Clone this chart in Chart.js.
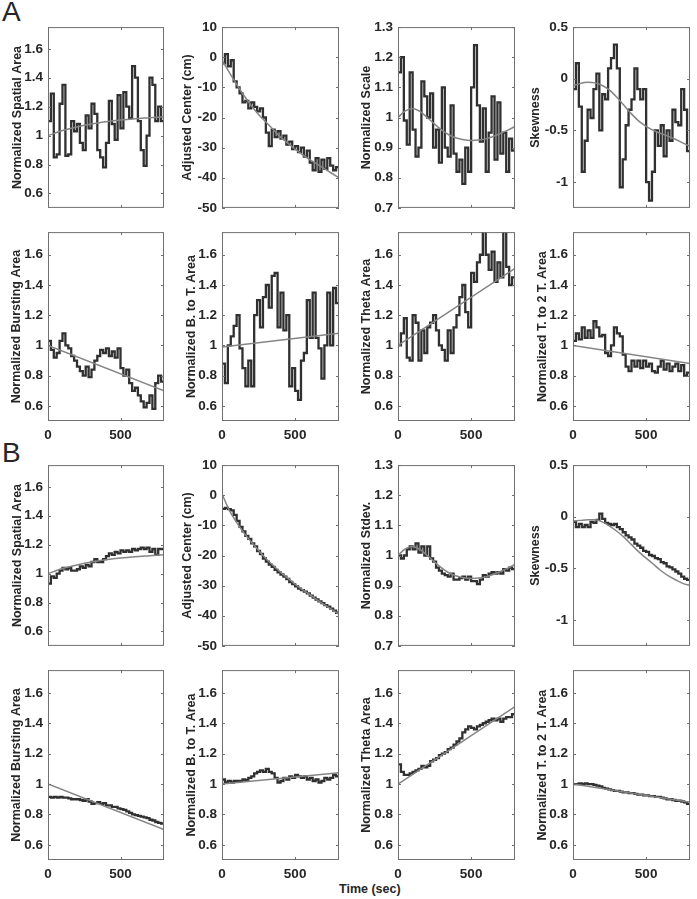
<!DOCTYPE html>
<html>
<head>
<meta charset="utf-8">
<script src="https://cdn.jsdelivr.net/npm/chart.js@4.4.1/dist/chart.umd.min.js"></script>
<style>
body { margin: 0; background: #fff; width: 697px; height: 899px; position: relative; overflow: hidden;
       font-family: "Liberation Sans", Arial, Helvetica, sans-serif; }
canvas { position: absolute; }
.lbl { position: absolute; color: #262626; line-height: 1; white-space: nowrap; }
</style>
</head>
<body>
<div class="lbl" style="left:2px;top:-2px;font-size:28px;">A</div>
<div class="lbl" style="left:2px;top:439px;font-size:28px;">B</div>
<div class="lbl" style="left:339px;top:883px;font-size:12.5px;font-weight:bold;">Time (sec)</div>
<script>
// time axis (s), stairs are held from each step to the next
const tSteps = [0,20,40,60,80,100,120,140,160,180,200,220,240,260,280,300,320,340,360,380,
                400,420,440,460,480,500,520,540,560,580,600,620,640,660,680,700,720,740,760,780,800];
const fitT = [0,50,100,150,200,250,300,350,400,450,500,550,600,650,700,750,800];
const fitT9 = [0,100,200,300,400,500,600,700,800];
const fitEnds = [0,800];
const xTicks = [0,500];

const ticksNorm = [0.6,0.8,1,1.2,1.4,1.6];
const ticksCenter = [-50,-40,-30,-20,-10,0,10];
const ticksScale = [0.7,0.8,0.9,1,1.1,1.2,1.3];
const ticksSkew = [-1,-0.5,0,0.5];

// --- panel A (single session) ---
const spatialA = [1.1,1.29,0.85,0.87,1.22,1.35,0.86,0.87,1.1,1.03,1.08,0.95,0.9,1.14,1.05,1.22,1.15,0.9,0.85,0.78,
                  0.95,1.24,1.08,0.97,1.28,1.05,1.3,1.2,1.12,1.48,1.4,1.1,0.9,0.79,1.0,1.4,1.35,1.1,1.2,1.1];
const centerA = [-2,1,-3,-1,-8,-10,-12,-15,-14.5,-17,-15,-16.5,-18,-17,-20,-25,-29.5,-24,-26.5,-24.5,
                 -27,-26,-29,-28,-30.5,-29.5,-31.5,-30,-33,-31,-35,-37.5,-33.5,-38,-34,-37,-33.5,-36,-37.5,-36.5];
const scaleA = [1.15,1.2,0.99,0.91,1.15,0.96,0.87,0.9,1.12,1.07,1.0,1.08,0.9,0.96,0.85,1.1,0.9,0.87,1.04,0.88,
                0.82,0.86,0.78,0.9,0.82,1.1,1.24,1.04,0.92,1.03,0.82,0.95,1.07,0.86,1.05,0.88,0.95,0.82,0.93,0.89];
const skewA = [-0.1,0.15,-0.27,-0.9,-0.6,-0.3,-0.38,-0.1,0.05,-0.5,-0.15,-0.2,0.1,0.2,0.33,0.1,-1.05,-0.78,-0.45,-0.3,
               -0.2,0.1,-0.1,-0.2,-0.1,-1.0,-1.18,-0.9,-0.5,-0.65,-0.45,-0.75,-0.5,-0.6,-0.3,-0.42,-0.45,-0.1,-0.3,-0.7];
const burstA = [1.03,0.97,0.92,0.95,1.03,1.08,1.0,0.98,0.93,0.9,0.86,0.83,0.8,0.86,0.79,0.84,0.9,0.93,0.97,0.95,
                0.98,0.93,0.96,0.92,0.98,0.85,0.8,0.84,0.75,0.7,0.72,0.67,0.63,0.59,0.62,0.67,0.58,0.75,0.8,0.76];
const btotA = [0.88,0.75,1.0,1.06,1.13,1.2,0.98,0.85,0.73,0.9,0.73,1.2,1.3,1.12,1.32,1.4,1.25,1.46,1.48,1.12,
               1.35,1.1,1.2,0.73,0.85,0.7,0.64,0.9,0.95,1.3,1.05,1.35,1.05,0.98,0.78,1.0,1.35,1.0,1.38,1.28];
const thetaA = [1.0,1.08,1.18,0.92,0.9,1.2,1.15,0.9,1.1,0.95,1.12,1.15,1.2,1.1,1.0,0.97,0.9,1.1,0.95,1.12,
                1.2,1.32,1.4,1.22,1.12,1.48,1.42,1.55,1.6,1.78,1.6,1.5,1.62,1.42,1.55,1.45,1.78,1.52,1.4,1.45];
const t2tA = [1.03,1.08,1.04,1.12,1.05,1.1,1.05,1.16,1.12,1.06,1.07,0.95,0.93,1.0,1.12,1.08,1.06,0.94,0.86,0.83,
              0.9,0.86,0.9,0.85,0.9,0.86,0.88,0.83,0.82,0.86,0.9,0.84,0.88,0.83,0.86,0.88,0.83,0.87,0.8,0.82];

// --- panel B (average) ---
const spatialB = [0.93,0.98,0.97,1.0,1.02,1.04,1.03,1.04,1.02,1.02,1.03,1.05,1.04,1.06,1.05,1.08,1.1,1.08,1.08,1.1,
                  1.12,1.14,1.13,1.15,1.14,1.16,1.15,1.16,1.15,1.17,1.16,1.17,1.18,1.17,1.18,1.15,1.17,1.13,1.17,1.17];
const centerB = [-4.5,-4.2,-4.6,-5,-6.5,-8.5,-10.5,-12,-13.5,-14.5,-16,-17,-18.5,-19.5,-21,-22,-23,-23.8,-24.8,-25.6,
                 -26.3,-27,-27.8,-28.8,-29.5,-30.2,-31,-31.5,-32,-32.6,-33.3,-34,-34.6,-35.2,-35.8,-36.5,-37,-37.6,-38.3,-39];
const stdevB = [1.0,0.99,1.0,1.02,1.03,1.02,1.04,1.01,1.03,1.0,1.03,0.99,0.98,0.96,0.95,0.94,0.935,0.93,0.94,0.92,
                0.92,0.925,0.93,0.92,0.93,0.915,0.915,0.905,0.92,0.935,0.93,0.94,0.945,0.94,0.945,0.94,0.955,0.95,0.96,0.955];
const skewB = [-0.05,-0.1,-0.07,-0.1,-0.08,-0.1,-0.05,-0.06,-0.03,0.03,-0.02,-0.06,-0.07,-0.08,-0.07,-0.1,-0.12,-0.15,-0.18,-0.2,
               -0.22,-0.26,-0.28,-0.3,-0.33,-0.34,-0.37,-0.38,-0.4,-0.41,-0.44,-0.45,-0.48,-0.49,-0.51,-0.53,-0.55,-0.58,-0.6,-0.61];
const burstB = [0.915,0.91,0.915,0.91,0.915,0.91,0.91,0.905,0.9,0.9,0.9,0.895,0.89,0.9,0.885,0.87,0.875,0.88,0.87,0.875,
                0.86,0.86,0.85,0.85,0.84,0.835,0.83,0.82,0.81,0.8,0.795,0.79,0.785,0.78,0.775,0.765,0.76,0.75,0.745,0.74];
const btotB = [1.03,1.01,1.02,1.01,1.02,1.02,1.02,1.03,1.025,1.04,1.05,1.07,1.08,1.09,1.08,1.1,1.08,1.07,1.04,1.01,
               1.02,1.04,1.03,1.05,1.04,1.06,1.05,1.04,1.05,1.03,1.04,1.02,1.03,1.01,1.02,1.04,1.03,1.04,1.06,1.05];
const thetaB = [1.13,1.08,1.06,1.06,1.07,1.08,1.09,1.1,1.12,1.11,1.12,1.15,1.16,1.17,1.19,1.2,1.21,1.23,1.24,1.26,
                1.28,1.3,1.34,1.36,1.38,1.37,1.36,1.38,1.39,1.4,1.41,1.42,1.43,1.42,1.43,1.41,1.43,1.44,1.44,1.46];
const t2tB = [1.0,1.0,1.005,1.0,1.005,1.0,1.0,0.995,0.99,0.985,0.975,0.97,0.965,0.96,0.955,0.955,0.95,0.945,0.945,0.94,
              0.94,0.935,0.93,0.93,0.925,0.925,0.92,0.92,0.915,0.915,0.91,0.905,0.9,0.9,0.895,0.89,0.89,0.885,0.88,0.87];

// --- fitted curves ---
const spatialFit = [1.0,1.035,1.06,1.08,1.095,1.107,1.116,1.123,1.13];
const centerFitA = [-1,-5,-9,-12.7,-16,-19,-21.5,-24,-26.5,-28.5,-30.5,-32.3,-34,-35.5,-37,-38.5,-40];
const centerFitB = [0.5,-5,-9,-12.5,-15.5,-18.3,-21,-23.3,-25.5,-27.5,-29.5,-31.3,-33,-34.7,-36.3,-37.9,-39.5];
const scaleFit = [1.0,1.022,1.03,1.02,1.0,0.978,0.958,0.942,0.932,0.926,0.924,0.925,0.929,0.937,0.947,0.958,0.97];
const skewFitA = [-0.07,-0.045,-0.035,-0.04,-0.065,-0.11,-0.18,-0.26,-0.34,-0.41,-0.46,-0.5,-0.53,-0.555,-0.585,-0.62,-0.655];
const skewFitB = [-0.04,-0.035,-0.03,-0.03,-0.05,-0.09,-0.14,-0.2,-0.27,-0.34,-0.4,-0.46,-0.52,-0.57,-0.61,-0.645,-0.665];
const burstFit = [1.0,0.7];
const btotFitA = [0.99,1.08];
const btotFitB = [1.0,1.075];
const thetaFit = [1.0,1.51];
const t2tFit = [1.0,0.88];

// layout of the 4x4 grid (plot-area boxes)
const colX = [48,222,398,573];
const colW = [116,117,117,117];
const rowY = [22,227,460,665];
const rowH = [195,194,195,195];
const W = 52;
const FONT = '"Liberation Sans", Arial, Helvetica, sans-serif';
const TXT = '#262626';

const panels = [
  [ {label:'Normalized Spatial Area', trace:spatialA, fx:fitT9, fy:spatialFit, min:0.5, max:1.75, ticks:ticksNorm, d:30},
    {label:'Adjusted Center (cm)', trace:centerA, fx:fitT, fy:centerFitA, min:-50, max:10, ticks:ticksCenter, d:34},
    {label:'Normalized Scale', trace:scaleA, fx:fitT, fy:scaleFit, min:0.7, max:1.3, ticks:ticksScale, d:31},
    {label:'Skewness', trace:skewA, fx:fitT, fy:skewFitA, min:-1.25, max:0.5, ticks:ticksSkew, d:37} ],
  [ {label:'Normalized Bursting Area', trace:burstA, fx:fitEnds, fy:burstFit, min:0.5, max:1.75, ticks:ticksNorm, d:31},
    {label:'Normalized B. to T. Area', trace:btotA, fx:fitEnds, fy:btotFitA, min:0.5, max:1.75, ticks:ticksNorm, d:30},
    {label:'Normalized Theta Area', trace:thetaA, fx:fitEnds, fy:thetaFit, min:0.5, max:1.75, ticks:ticksNorm, d:31},
    {label:'Normalized T. to 2 T. Area', trace:t2tA, fx:fitEnds, fy:t2tFit, min:0.5, max:1.75, ticks:ticksNorm, d:30} ],
  [ {label:'Normalized Spatial Area', trace:spatialB, fx:fitT9, fy:spatialFit, min:0.5, max:1.75, ticks:ticksNorm, d:30},
    {label:'Adjusted Center (cm)', trace:centerB, fx:fitT, fy:centerFitB, min:-50, max:10, ticks:ticksCenter, d:34},
    {label:'Normalized Stdev.', trace:stdevB, fx:fitT, fy:scaleFit, min:0.7, max:1.3, ticks:ticksScale, d:31},
    {label:'Skewness', trace:skewB, fx:fitT, fy:skewFitB, min:-1.25, max:0.5, ticks:ticksSkew, d:37} ],
  [ {label:'Normalized Bursting Area', trace:burstB, fx:fitEnds, fy:burstFit, min:0.5, max:1.75, ticks:ticksNorm, d:31},
    {label:'Normalized B. to T. Area', trace:btotB, fx:fitEnds, fy:btotFitB, min:0.5, max:1.75, ticks:ticksNorm, d:30},
    {label:'Normalized Theta Area', trace:thetaB, fx:fitEnds, fy:thetaFit, min:0.5, max:1.75, ticks:ticksNorm, d:31},
    {label:'Normalized T. to 2 T. Area', trace:t2tB, fx:fitEnds, fy:t2tFit, min:0.5, max:1.75, ticks:ticksNorm, d:30} ]
];

// MATLAB-like box with inward ticks on all four sides
const boxPlugin = {
  id: 'box',
  afterDatasetsDraw(chart) {
    const { ctx, chartArea: a, scales: { x, y } } = chart;
    ctx.save();
    ctx.strokeStyle = '#707070';
    ctx.lineWidth = 1;
    ctx.strokeRect(a.left + 0.5, a.top + 0.5, a.width - 1, a.height - 1);
    ctx.beginPath();
    x.ticks.forEach(t => {
      const px = Math.round(x.getPixelForValue(t.value)) + 0.5;
      ctx.moveTo(px, a.bottom); ctx.lineTo(px, a.bottom - 3);
      ctx.moveTo(px, a.top); ctx.lineTo(px, a.top + 3);
    });
    y.ticks.forEach(t => {
      const py = Math.round(y.getPixelForValue(t.value)) + 0.5;
      ctx.moveTo(a.left, py); ctx.lineTo(a.left + 3, py);
      ctx.moveTo(a.right, py); ctx.lineTo(a.right - 3, py);
    });
    ctx.stroke();
    ctx.restore();
  }
};

function makePanel(p, r, c) {
  const bottom = (r === 1 || r === 3);
  const w = W + colW[c] + 6;
  const h = 8 + rowH[r] + (bottom ? 22 : 4);
  const cv = document.createElement('canvas');
  cv.width = w; cv.height = h;
  cv.style.left = (colX[c] - W) + 'px';
  cv.style.top = (rowY[r] - 8) + 'px';
  cv.style.width = w + 'px'; cv.style.height = h + 'px';
  document.body.appendChild(cv);

  new Chart(cv, {
    type: 'line',
    data: {
      datasets: [
        {
          data: p.fx.map((x, i) => ({ x: x, y: p.fy[i] })),
          borderColor: '#858585', borderWidth: 1.5, pointRadius: 0, fill: false,
          cubicInterpolationMode: 'monotone'
        },
        {
          data: tSteps.map((t, i) => ({ x: t, y: p.trace[Math.min(i, p.trace.length - 1)] })),
          borderColor: '#303030', borderWidth: 2.3, pointRadius: 0, fill: false,
          stepped: true
        }
      ]
    },
    options: {
      responsive: false,
      animation: false,
      devicePixelRatio: 1,
      layout: { padding: { top: 8, right: 6, left: 0, bottom: 0 } },
      plugins: { legend: { display: false }, tooltip: { enabled: false } },
      scales: {
        x: {
          type: 'linear', min: 0, max: 800,
          grid: { display: false, drawTicks: false },
          border: { display: false },
          ticks: { display: bottom, color: TXT, padding: 6, maxRotation: 0,
                   font: { family: FONT, size: 13.5, weight: 'bold' } },
          afterBuildTicks: s => { s.ticks = xTicks.map(v => ({ value: v })); },
          afterFit: s => { s.height = bottom ? 22 : 4; }
        },
        y: {
          min: p.min, max: p.max,
          grid: { display: false, drawTicks: false },
          border: { display: false },
          ticks: { color: TXT, padding: 5,
                   font: { family: FONT, size: 13.5, weight: 'bold' },
                   callback: v => String(+Number(v).toFixed(2)) },
          afterBuildTicks: s => { s.ticks = p.ticks.map(v => ({ value: v })); },
          afterFit: s => { s.width = W; },
          title: { display: true, text: p.label, color: TXT,
                   font: { family: FONT, size: 12.5, weight: 'bold' },
                   padding: { top: W - p.d - 7.5, bottom: 0 } }
        }
      }
    },
    plugins: [boxPlugin]
  });
}

panels.forEach((row, r) => row.forEach((p, c) => makePanel(p, r, c)));
</script>
</body>
</html>
